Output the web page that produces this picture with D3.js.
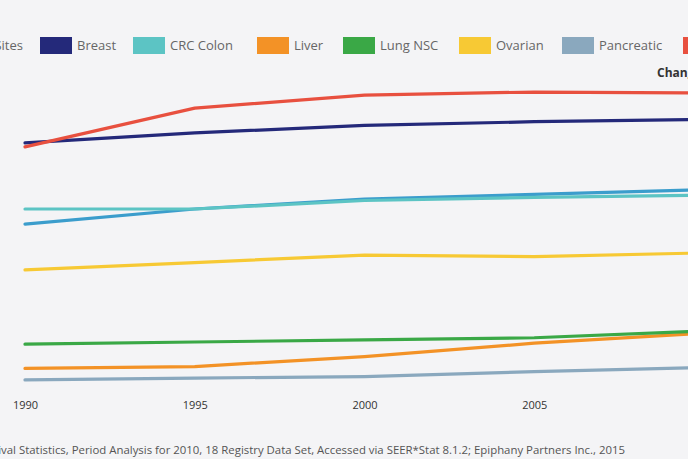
<!DOCTYPE html>
<html><head><meta charset="utf-8">
<script src="https://cdn.jsdelivr.net/npm/d3@7"></script>
<style>
html,body{margin:0;padding:0;background:#f4f4f6;overflow:hidden}
svg{display:block;font-family:"Open Sans","Lato",sans-serif}
</style></head><body>
<svg id="chart" width="688" height="459"></svg>
<script>
const years = [1990, 1995, 2000, 2005, 2010];
const seriesNames = ["All Sites", "Breast", "CRC Colon", "Liver", "Lung NSC", "Ovarian", "Pancreatic", "Prostate"];
const seriesColors = ["#3b9dcc", "#24297a", "#5cc4c4", "#f39226", "#3aa846", "#f7c934", "#8aa8be", "#e8503f"];
const allSites   = [55.4, 60.4, 63.7, 65.2, 66.8];
const breast     = [82.2, 85.5, 88.0, 89.2, 90.0];
const crcColon   = [60.4, 60.4, 63.2, 64.2, 65.0];
const liver      = [7.8, 8.4, 11.7, 16.1, 19.4];
const lungNSC    = [15.8, 16.5, 17.2, 17.9, 20.1];
const ovarian    = [40.3, 42.7, 45.2, 44.7, 45.9];
const pancreatic = [4.0, 4.6, 5.1, 6.7, 8.1];
const prostate   = [80.9, 93.7, 98.0, 99.0, 98.7];
const seriesValues = [allSites, breast, crcColon, liver, lungNSC, ovarian, pancreatic, prostate];
const xTickValues = [1990, 1995, 2000, 2005];
const xTickLabels = ["1990", "1995", "2000", "2005"];
const headerText = "Change";
const sourceText = "Source: SEER Cancer Survival Statistics, Period Analysis for 2010, 18 Registry Data Set, Accessed via SEER*Stat 8.1.2; Epiphany Partners Inc., 2015";

const svg = d3.select("#chart");
const x = d3.scaleLinear().domain([1990, 2010]).range([25, 704]);
const y = d3.scaleLinear().domain([0, 100]).range([392, 89]);

// draw order so red and navy sit on top as in the reference
const order = [6, 3, 4, 5, 0, 2, 1, 7];
const line = d3.line().x((d, i) => x(years[i])).y(d => y(d));
svg.append("g").selectAll("path").data(order).join("path")
  .attr("d", i => line(seriesValues[i]))
  .attr("fill", "none")
  .attr("stroke", i => seriesColors[i])
  .attr("stroke-width", 3.2)
  .attr("stroke-linecap", "round")
  .attr("stroke-linejoin", "round");

// x axis
const xAxis = d3.axisBottom(x).tickValues(xTickValues).tickFormat((d, i) => xTickLabels[i]).tickSize(0);
const gx = svg.append("g").attr("transform", "translate(0,398)").call(xAxis);
gx.select(".domain").remove();
gx.selectAll("text").attr("font-size", 11).attr("fill", "#333").attr("font-family", "Open Sans, sans-serif");

// legend (layout positions of swatches)
const legendSwatchX = [null, 40, 133, 257, 343, 459, 562, 683];
const leg = svg.append("g").attr("class", "legend");
const fs = 13;
function addItem(i, sx) {
  const g = leg.append("g").attr("transform", `translate(${sx},0)`);
  g.append("rect").attr("x", 0).attr("y", 37).attr("width", 32).attr("height", 17).attr("fill", seriesColors[i]);
  g.append("text").attr("x", 37).attr("y", 50).attr("font-size", fs).attr("fill", "#666").text(seriesNames[i]);
  return g;
}
for (let i = 1; i < seriesNames.length; i++) addItem(i, legendSwatchX[i]);
{
  const tmp = leg.append("text").attr("font-size", fs).text(seriesNames[0]);
  const w = tmp.node().getComputedTextLength();
  tmp.remove();
  addItem(0, 23 - w - 37);
}

svg.append("text").attr("x", 657).attr("y", 77).attr("font-size", 12).attr("font-weight", "bold")
  .attr("fill", "#333").text(headerText);

svg.append("text").attr("x", 625).attr("y", 454).attr("text-anchor", "end")
  .attr("font-size", 11.4).attr("fill", "#555").text(sourceText);
</script>
</body></html>
